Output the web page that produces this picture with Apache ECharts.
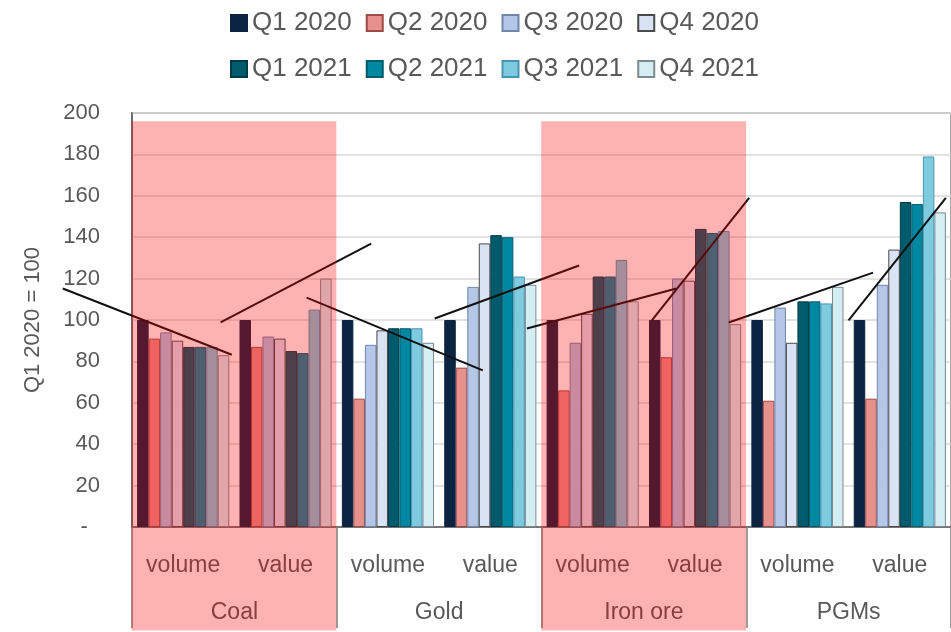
<!DOCTYPE html>
<html>
<head>
<meta charset="utf-8">
<script src="https://cdn.jsdelivr.net/npm/echarts@6/dist/echarts.min.js"></script>
<style>
  html, body { margin: 0; padding: 0; background: #ffffff; }
  #chart { width: 951px; height: 632px; }
</style>
</head>
<body>
<div id="chart"></div>
<script>
// Quarterly index of mining sales, Q1 2020 = 100
const quarters = ['Q1 2020', 'Q2 2020', 'Q3 2020', 'Q4 2020', 'Q1 2021', 'Q2 2021', 'Q3 2021', 'Q4 2021'];
const measures = ['volume', 'value', 'volume', 'value', 'volume', 'value', 'volume', 'value'];
const commodities = ['Coal', 'Gold', 'Iron ore', 'PGMs'];

// one array per quarter, ordered as Coal vol/val, Gold vol/val, Iron ore vol/val, PGMs vol/val
const q1_2020 = [100, 100, 100, 100, 100, 100, 100, 100];
const q2_2020 = [91, 87, 62, 77, 66, 82, 61, 62];
const q3_2020 = [94, 92, 88, 116, 89, 120, 106, 117];
const q4_2020 = [90, 91, 95, 137, 103, 119, 89, 134];
const q1_2021 = [87, 85, 96, 141, 121, 144, 109, 157];
const q2_2021 = [87, 84, 96, 140, 121, 142, 109, 156];
const q3_2021 = [87, 105, 96, 121, 129, 143, 108, 179];
const q4_2021 = [83, 120, 89, 117, 109, 98, 116, 152];

// y-axis ticks
const yTicks = [0, 20, 40, 60, 80, 100, 120, 140, 160, 180, 200];

// trend segments: [position in category units, index value]
const trend1 = [[-0.67, 115.2], [0.98, 83.2]];
const trend2 = [[0.87, 98.8], [2.34, 136.9]];
const trend3 = [[1.71, 110.8], [3.43, 75.7]];
const trend4 = [[2.96, 100.7], [4.37, 126.3]];
const trend5 = [[3.86, 95.9], [5.32, 115.2]];
const trend6 = [[5.08, 99.8], [6.03, 159.0]];
const trend7 = [[5.83, 98.8], [7.24, 122.9]];
const trend8 = [[7.0, 99.8], [7.95, 159.0]];

// highlighted commodity spans (category units) for Coal and Iron ore
const highlightSpans = [[0, 2], [4, 6]];
const highlightTop = 196;
const highlightBottom = -50;

const seriesValues = [q1_2020, q2_2020, q3_2020, q4_2020, q1_2021, q2_2021, q3_2021, q4_2021];
const trends = [trend1, trend2, trend3, trend4, trend5, trend6, trend7, trend8];

const fills = ['#0d2342', '#e8908c', '#b4c7e7', '#dae3f3', '#005b6c', '#0088a2', '#7ecbe0', '#d5eef4'];
const borders = ['#0d2342', '#9c4b48', '#6f86ad', '#4a4a4a', '#003a46', '#005a6c', '#4b93b3', '#7d8a8e'];

const FONT = '"Liberation Sans", Arial, sans-serif';
const TEXT = '#595959';

const PLOT = { left: 132, right: -5, top: 113, bottom: 105 };
const CAT_COUNT = measures.length;

const chart = echarts.init(document.getElementById('chart'), null, { renderer: 'canvas' });

const barSeries = quarters.map((name, i) => ({
  name: name,
  type: 'bar',
  xAxisIndex: 0,
  yAxisIndex: 0,
  data: seriesValues[i],
  barGap: '0%',
  barCategoryGap: '10%',
  itemStyle: { color: fills[i], borderColor: borders[i], borderWidth: 1 },
  emphasis: { disabled: true },
  z: 2
}));

// trend segments live on an overlay grid one category wider on the left,
// so segments that start before the first category are not cut off
const lineSeries = trends.map((seg) => ({
  type: 'line',
  xAxisIndex: 2,
  yAxisIndex: 1,
  data: seg,
  symbol: 'none',
  clip: false,
  silent: true,
  lineStyle: { color: '#111111', width: 2 },
  z: 5
}));

const legendCommon = {
  left: 225,
  itemWidth: 16,
  itemHeight: 16,
  itemGap: 14,
  icon: 'rect',
  textStyle: { fontFamily: FONT, fontSize: 26, color: TEXT },
  selectedMode: false
};

const option = {
  animation: false,
  backgroundColor: '#ffffff',
  legend: [
    Object.assign({ top: 5, data: quarters.slice(0, 4) }, legendCommon),
    Object.assign({ top: 51, data: quarters.slice(4) }, legendCommon)
  ],
  grid: [
    {
      left: PLOT.left, right: PLOT.right, top: PLOT.top, bottom: PLOT.bottom,
      show: true, borderColor: '#a6a6a6', borderWidth: 2, backgroundColor: 'transparent'
    },
    {
      // same plot height, extended one category to the left
      left: 0, right: PLOT.right, top: PLOT.top, bottom: PLOT.bottom, show: false
    }
  ],
  xAxis: [
    {
      type: 'category',
      gridIndex: 0,
      data: measures,
      position: 'bottom',
      axisLine: { show: true, lineStyle: { color: '#595959', width: 1.5 } },
      axisTick: { show: false },
      axisLabel: { fontFamily: FONT, fontSize: 23, color: TEXT, margin: 27, interval: 0 }
    },
    {
      type: 'category',
      gridIndex: 0,
      data: commodities,
      position: 'bottom',
      axisLine: { show: false },
      axisTick: { show: true, length: 101, interval: 0, lineStyle: { color: '#7f7f7f', width: 1.5 } },
      axisLabel: { fontFamily: FONT, fontSize: 23, color: TEXT, margin: 74, interval: 0 }
    },
    {
      type: 'value',
      gridIndex: 1,
      position: 'top',
      min: -1,
      max: CAT_COUNT,
      show: false
    }
  ],
  yAxis: [
    {
      type: 'value',
      gridIndex: 0,
      min: yTicks[0],
      max: yTicks[yTicks.length - 1],
      interval: yTicks[1] - yTicks[0],
      name: 'Q1 2020 = 100',
      nameLocation: 'middle',
      nameGap: 88,
      nameTextStyle: { fontFamily: FONT, fontSize: 22, color: TEXT },
      axisLine: { show: true, lineStyle: { color: '#595959', width: 1.5 } },
      axisTick: { show: false },
      splitLine: { show: true, lineStyle: { color: '#d9d9d9', width: 1.5 } },
      axisLabel: {
        fontFamily: FONT, fontSize: 22, color: TEXT, margin: 32,
        formatter: (v) => (v === 0 ? '-  ' : String(v))
      }
    },
    {
      type: 'value',
      gridIndex: 1,
      min: yTicks[0],
      max: yTicks[yTicks.length - 1],
      show: false
    }
  ],
  series: barSeries.concat(lineSeries)
};

// the overlay grid's left edge sits exactly one category width left of the plot
(function alignOverlay() {
  const plotWidth = 951 - PLOT.left - PLOT.right;
  option.grid[1].left = PLOT.left - plotWidth / CAT_COUNT;
})();

chart.setOption(option);

// translucent red bands over the highlighted commodities, placed through the axes
const lineIdx = barSeries.length;
const bands = highlightSpans.map((span) => {
  const p0 = chart.convertToPixel({ seriesIndex: lineIdx }, [span[0], highlightTop]);
  const p1 = chart.convertToPixel({ seriesIndex: lineIdx }, [span[1], highlightBottom]);
  return {
    type: 'rect',
    z: 100,
    silent: true,
    shape: { x: p0[0], y: p0[1], width: p1[0] - p0[0], height: p1[1] - p0[1] },
    style: { fill: 'rgba(255, 0, 0, 0.3)' }
  };
});
chart.setOption({ graphic: { elements: bands } });
</script>
</body>
</html>
